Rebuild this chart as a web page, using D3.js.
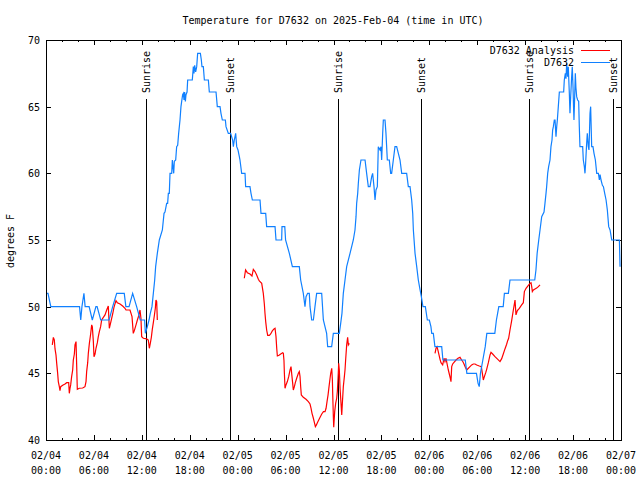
<!DOCTYPE html>
<html><head><meta charset="utf-8">
<script src="https://cdn.jsdelivr.net/npm/d3@7"></script>
<style>
body{margin:0;background:#fff}
svg{display:block;background:#fff}
text{font-family:"DejaVu Sans Mono",monospace;font-size:10px;fill:#000}
</style>
</head><body><svg id="c" width="640" height="480"></svg>
<script>
const title = "Temperature for D7632 on 2025-Feb-04 (time in UTC)";
const yLabel = "degrees F";
const seriesNames = ["D7632 Analysis", "D7632"];
const seriesColors = ["#ff0000", "#1080ff"];
const xTickHours = [0,6,12,18,24,30,36,42,48,54,60,66,72];
const xTickDates = ["02/04","02/04","02/04","02/04","02/05","02/05","02/05","02/05","02/06","02/06","02/06","02/06","02/07"];
const xTickTimes = ["00:00","06:00","12:00","18:00","00:00","06:00","12:00","18:00","00:00","06:00","12:00","18:00","00:00"];
const yTicks = [40,45,50,55,60,65,70];
const sunHours = [12.57, 23.08, 36.6, 47.0, 60.5, 71.04];
const sunLabels = ["Sunrise","Sunset","Sunrise","Sunset","Sunrise","Sunset"];

// observed (hours since 02/04 00:00 UTC, deg F)
const obsHours = [0.0,0.25,0.6,4.2,4.35,4.5,4.75,4.9,5.4,5.8,6.25,6.4,6.85,7.9,8.35,8.85,9.8,10.0,10.4,10.85,11.35,11.8,12.35,12.44,12.69,12.9,13.06,13.27,13.44,13.61,13.73,13.94,14.19,
14.57,14.78,14.9,15.11,15.23,15.32,15.44,15.53,15.74,15.82,15.9,15.99,16.07,16.24,16.36,16.49,16.61,16.78,16.9,16.99,17.11,17.2,17.28,17.36,17.45,17.53,17.66,17.74,18.32,18.45,18.53,18.62,18.74,18.87,18.99,19.33,19.45,19.53,19.7,19.83,20.33,20.45,21.29,21.45,21.79,21.91,22.08,22.46,22.54,22.83,23.12,23.37,23.46,23.58,23.75,23.88,24.04,24.21,
24.29,24.5,24.92,25.0,25.54,25.67,25.84,26.8,26.92,27.51,27.63,28.68,28.8,29.51,29.55,29.9,30.0,30.47,30.85,31.72,31.89,32.22,32.43,32.56,32.76,32.97,33.06,33.27,33.48,33.68,33.89,34.52,34.73,35.14,35.27,35.77,35.98,36.73,36.9,37.06,37.23,37.44,37.65,38.07,38.48,
38.69,38.82,38.9,39.03,39.11,39.24,39.44,39.95,40.15,40.36,40.57,40.78,40.9,41.07,41.2,41.32,41.49,41.61,41.82,41.95,42.03,42.16,42.24,42.45,42.57,42.74,42.99,43.16,43.28,43.49,43.7,43.91,44.12,44.33,44.54,45.16,45.37,45.58,45.79,45.92,46.0,46.21,46.42,46.62,46.83,47.0,47.2,47.5,47.75,48.0,48.2,48.3,48.5,48.7,49.55,49.7,52.5,52.7,53.9,54.1,54.25,54.4,54.7,55.0,55.2,56.2,56.4,56.55,56.7,57.25,57.4,57.9,58.1,61.2,61.35,61.5,61.7,
61.86,62.07,62.36,62.48,62.61,62.69,62.82,62.94,63.11,63.23,63.36,63.44,63.53,63.65,63.74,63.86,63.95,64.03,64.15,64.28,64.82,64.9,65.03,65.11,65.2,65.32,65.4,65.53,65.61,65.7,65.82,65.9,65.99,66.07,66.11,66.2,66.28,66.36,66.45,66.57,66.7,66.78,66.86,67.2,67.28,67.41,67.49,67.57,67.7,67.78,67.91,67.99,68.12,68.2,68.33,68.49,68.62,68.79,68.96,69.17,69.29,69.38,69.5,69.67,69.8,69.96,70.13,70.29,70.46,70.63,70.84,71.8,71.88];
const obsTemps = [51,51,50,50,49,50,51,50,50,49,50,50,49,49,50,51,51,50,50,51,50,49,49,48,48.5,49,49.5,50,51,52,53,54,55,
55.75,57,57.1,57.75,57.75,58.5,58.5,60,60,61,60.5,60,60.9,61,62,62.1,63,64,65,65.4,65.9,66,65.5,66.1,65.4,65.9,66.1,67,67,68,67.5,68.1,67.6,68,69,69,68.5,68,68,67,67,66.1,66.1,65,65,64.5,64,64,63.5,63,63,62.5,62,62.5,63,62,61.75,61.25,
61,60,60,59,59,58.5,58,58,57,57,56,56,55,55,56,56,55,54,53,53,52,51,50,50.75,51,51,50,49,49,50,51,51,49,48,47,47,48,48,48.75,49.5,51,52,53,54,55,
55.75,56.75,57.75,58.5,59.25,60.25,61,61,60,59,59,59.75,60,59,58,58.75,59,62,61.75,62,61,63,64,64,63,61,61,60,60,61,62,62,61.5,61,60,60,59,59,58,57,55.75,54,53,52,51.3,50.75,50,50,49,49,48.5,48,48,47,47,46,46,45,45,44.25,44,45,46,47,48,48,49,49.5,50,50,51,51,52,52,52.75,54,55,
55.75,56.75,57.1,57.75,58.5,59,60,60.5,61,62,62.5,63.25,63.5,64,64,62.75,63.5,64,65,66.1,66.1,67,67.5,67.1,68.25,67.25,68,66,64.5,65.75,67.25,68,66.5,64.75,64,65.75,67.5,66.4,65.75,65.5,65.4,63.5,62,62,61,60.5,60,60.75,62.25,63,62,61.75,64.5,65,62,62,61.5,61,60,60,59.5,59.9,59.5,59.1,59,58.5,58,57.25,56,55.75,55,55,53];

// analysis (null = gap)
const anaHours = [0.79,0.92,1.04,1.13,1.25,1.34,1.46,1.54,1.67,1.75,1.84,2.09,2.38,2.59,2.84,2.92,3.0,3.09,3.21,3.34,3.42,3.55,3.63,3.76,3.84,3.92,4.17,4.59,4.88,5.01,5.09,5.22,5.3,5.43,5.59,5.72,5.8,5.93,6.01,6.14,6.26,6.43,6.55,6.68,6.84,6.97,7.18,7.39,7.6,7.8,7.93,8.1,8.35,8.51,8.76,8.93,9.27,9.6,9.89,10.02,10.52,10.77,10.93,11.06,11.27,11.44,11.6,11.77,11.89,11.98,12.19,12.6,12.81,12.94,13.06,13.19,13.31,13.44,13.56,13.69,13.77,13.86,13.94,
19.0,
24.83,24.99,25.21,25.54,25.79,25.96,26.17,26.38,26.59,26.71,27.01,27.21,27.34,27.42,27.51,27.63,27.76,27.97,28.13,28.34,28.55,28.68,28.8,28.89,28.97,29.18,29.39,29.64,29.72,29.8,29.85,29.93,30.05,30.22,30.39,30.56,30.68,30.76,30.89,30.97,31.1,31.22,31.39,31.6,31.72,31.81,31.89,31.97,32.22,32.56,32.85,33.06,33.19,33.31,33.48,33.61,33.73,33.86,33.98,34.15,34.32,34.53,34.74,34.94,35.07,35.19,35.32,35.44,35.57,35.65,35.78,35.86,35.9,35.98,36.03,36.07,36.15,36.27,36.4,36.48,36.57,36.65,36.73,36.82,36.94,37.03,37.11,37.23,37.36,37.44,37.52,37.65,37.77,37.86,37.98,
43.0,
48.71,48.84,48.96,49.09,49.21,49.34,49.46,49.67,49.84,49.96,50.09,50.21,50.38,50.5,50.63,50.71,50.8,50.92,51.09,51.34,51.59,51.84,52.05,52.22,52.34,52.51,52.68,52.89,53.09,53.3,53.51,53.72,53.93,54.26,54.51,54.64,54.76,54.89,55.06,55.18,55.39,55.6,55.72,55.93,56.22,56.51,56.85,57.06,57.26,57.47,57.68,57.81,57.93,58.1,58.31,58.52,58.73,58.85,59.02,59.27,59.56,59.77,59.9,60.11,60.4,60.61,60.73,60.82,60.9,61.03,61.23,61.44,61.65,61.86];
const anaTemps = [47.13,47.7,47.5,46.83,46.38,45.75,45,44.38,44,43.7,44,44.1,44.2,44.3,44.3,43.5,43.85,44.13,44.75,45.25,46,46.45,47.13,47.38,45.63,43.8,43.88,43.9,44,44.38,45.13,45.8,46.5,47.25,47.95,48.63,48.5,47.38,46.25,46.45,46.88,47.3,47.75,48.13,48.5,49,49.2,49.38,49.75,50.05,48.38,48.8,49.45,49.95,50.45,50.3,50.2,50.05,49.88,49.75,49.75,49.25,48,48.2,48.63,49,49.3,49.75,49.13,47.75,47.63,47.58,47.5,46.88,47.25,47.7,48.3,48.8,49.3,49.88,50.5,50.38,49,
null,
52.13,52.75,52.55,52.45,52.3,52.8,52.63,52.38,52.05,51.93,51.75,51,50.2,49.5,48.88,48.25,47.85,47.85,47.95,48.18,48.33,48.38,47.75,46.88,46.3,46.35,46.45,46.55,46.5,45.95,45,43.88,44.13,44.38,44.75,45.25,45.5,45,44.25,43.75,44,44.3,44.63,45,45.13,44.75,44,43.38,43.2,43.05,42.88,42.7,42.38,42,41.63,41.3,41,41.13,41.3,41.5,41.7,41.95,42.13,42.13,42.38,42.88,43.38,44,44.63,45,45.38,44.5,43.5,41.75,40.95,41.38,42.13,42.75,43.13,43.63,44.63,45.75,45.25,43.88,42.75,41.88,42.75,44,44.75,45.25,46,47.13,47.7,47.13,47.25,
null,
46.5,46.88,47,46.7,46.38,46.05,45.8,45.63,46.13,45.88,46.13,45.75,45.25,44.95,44.63,44.38,45.5,45.7,45.83,46,46.13,46.2,46,45.85,45.7,45.45,45.25,45.38,45.5,45.63,45.7,45.7,45.63,45.55,45.5,45,44.5,44.75,45.05,45.3,45.8,46.38,46.58,46.45,46.25,46.08,45.88,46.1,46.45,46.83,47.18,47.45,47.63,48.25,48.95,49.75,50.5,49.38,49.7,49.88,50.13,50.3,51.13,51.38,51.6,51.75,51.8,51.5,51.13,51.25,51.33,51.4,51.5,51.63];

const L = 46, R = 621, T = 40, B = 440;
const svg = d3.select("#c");
const x = d3.scaleLinear().domain([0, 72]).range([L, R]);
const y = d3.scaleLinear().domain([40, 70]).range([B, T]);

// title
svg.append("text").attr("x", 333).attr("y", 24).attr("text-anchor", "middle").text(title);
// y label
svg.append("text").attr("transform", "translate(14,241) rotate(-90)").attr("text-anchor", "middle").text(yLabel);

const minorHours = d3.range(0, 73, 2).filter(h => h % 6 !== 0);

// bottom axis (ticks inward)
const gB = svg.append("g").attr("transform", `translate(0,${B})`);
gB.call(d3.axisBottom(x).tickValues(xTickHours).tickSizeInner(-5).tickSizeOuter(0).tickFormat(""));
gB.append("g").call(d3.axisBottom(x).tickValues(minorHours).tickSizeInner(-2).tickSizeOuter(0).tickFormat(""));
// top axis
const gT = svg.append("g").attr("transform", `translate(0,${T})`);
gT.call(d3.axisTop(x).tickValues(xTickHours).tickSizeInner(-5).tickSizeOuter(0).tickFormat(""));
gT.append("g").call(d3.axisTop(x).tickValues(minorHours).tickSizeInner(-2).tickSizeOuter(0).tickFormat(""));
// left / right
const gL = svg.append("g").attr("transform", `translate(${L},0)`);
gL.call(d3.axisLeft(y).tickValues(yTicks).tickSizeInner(-5).tickSizeOuter(0).tickFormat(""));
const gR = svg.append("g").attr("transform", `translate(${R},0)`);
gR.call(d3.axisRight(y).tickValues(yTicks).tickSizeInner(-5).tickSizeOuter(0).tickFormat(""));
svg.selectAll(".domain").remove();
svg.selectAll(".tick line").attr("stroke", "#000").attr("shape-rendering", "crispEdges");

// tick labels
svg.append("g").selectAll("text").data(yTicks).join("text")
  .attr("x", L - 6).attr("y", d => y(d) + 4).attr("text-anchor", "end").text(d => d);
const xl = svg.append("g").selectAll("text").data(xTickHours).join("text")
  .attr("text-anchor", "middle").attr("x", d => x(d)).attr("y", 459);
xl.append("tspan").attr("x", d => x(d)).text((d, i) => xTickDates[i]);
xl.append("tspan").attr("x", d => x(d)).attr("dy", 15).text((d, i) => xTickTimes[i]);

// sunrise / sunset
const sg = svg.append("g");
sg.selectAll("line").data(sunHours).join("line")
  .attr("x1", d => x(d)).attr("x2", d => x(d)).attr("y1", 99).attr("y2", B)
  .attr("stroke", "#000").attr("shape-rendering", "crispEdges");
sg.selectAll("text").data(sunHours).join("text")
  .attr("transform", d => `translate(${x(d)},93) rotate(-90)`).attr("dy", "0.35em")
  .text((d, i) => sunLabels[i]);

// series
const obs = obsHours.map((h, i) => [h, obsTemps[i]]);
const ana = anaHours.map((h, i) => [h, anaTemps[i]]);
const line = d3.line().defined(d => d[1] !== null).x(d => x(d[0])).y(d => y(d[1]));
svg.append("path").datum(ana).attr("d", line).attr("fill", "none")
  .attr("stroke", seriesColors[0]).attr("stroke-width", 1.2);
svg.append("path").datum(obs).attr("d", line).attr("fill", "none")
  .attr("stroke", seriesColors[1]).attr("stroke-width", 1.2);

// legend
const lg = svg.append("g");
[50, 62].forEach((ly, i) => {
  lg.append("text").attr("x", 574).attr("y", ly + 4).attr("text-anchor", "end").text(seriesNames[i]);
  lg.append("line").attr("x1", 581).attr("x2", 610).attr("y1", ly).attr("y2", ly)
    .attr("stroke", seriesColors[i]).attr("shape-rendering", "crispEdges");
});

// border
svg.append("rect").attr("x", L).attr("y", T).attr("width", R - L).attr("height", B - T)
  .attr("fill", "none").attr("stroke", "#000").attr("shape-rendering", "crispEdges");
</script>
</body></html>
